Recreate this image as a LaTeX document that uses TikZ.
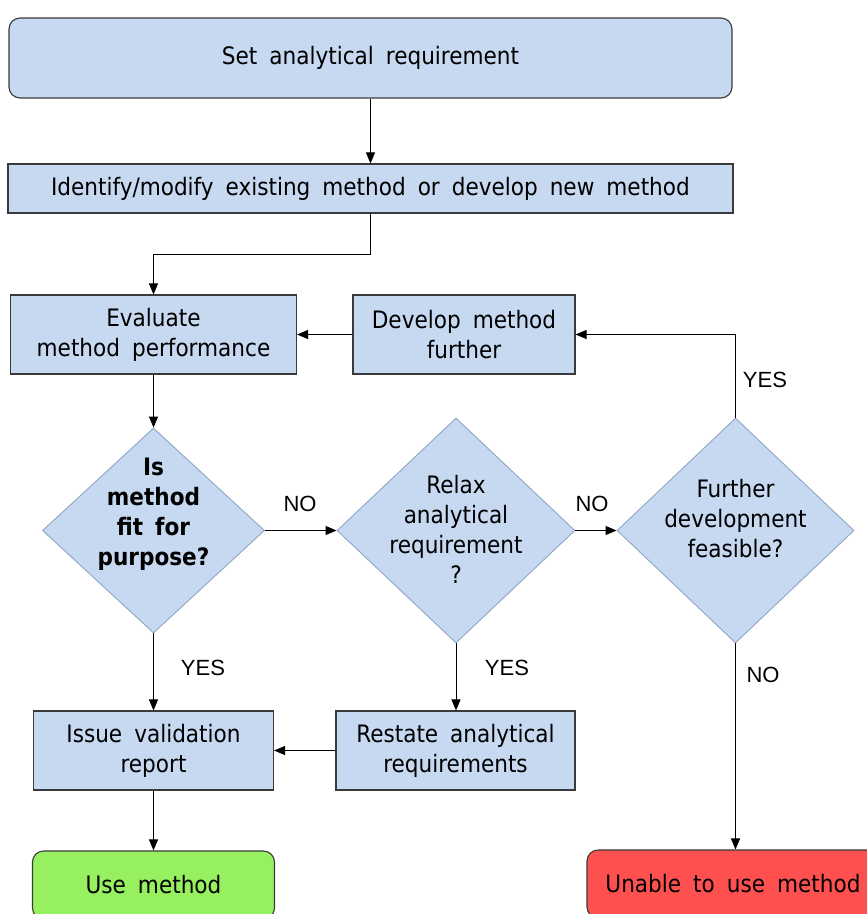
\documentclass[tikz,border=0pt]{standalone}
\usepackage{fontspec}
\setmainfont{DejaVu Sans Condensed}
\newfontfamily\labfont{Liberation Sans}
\usetikzlibrary{shapes.geometric,arrows.meta}
\definecolor{boxfill}{HTML}{C6D9F1}
\definecolor{boxline}{HTML}{3A3A3A}
\definecolor{diaLine}{HTML}{8FA6C4}
\definecolor{okfill}{HTML}{96F060}
\definecolor{nofill}{HTML}{FF5050}
\newcommand{\boxfont}{\fontsize{24}{30}\selectfont\spaceskip=0.5em plus 0.1em minus 0.05em\relax}
\tikzset{
  txt/.style={font=\boxfont, align=center},
  boxnode/.style={txt, draw=boxline, fill=boxfill, line width=1.1pt, rectangle, inner sep=0pt},
  roundbox/.style={boxnode, rounded corners=11pt},
  dianode/.style={diamond, draw=diaLine, fill=boxfill, line width=0.9pt, inner sep=0pt},
  dtext/.style={txt},
  lab/.style={font=\labfont\fontsize{22}{24}\selectfont},
  conn/.style={draw=black, line width=1pt, -{Triangle[length=11pt,width=9pt]}}
}
\begin{document}
\begin{tikzpicture}[x=1pt,y=-1pt]
\clip (0,0) rectangle (867,914);
\fill[white] (0,0) rectangle (867,914);

\node[roundbox, minimum width=723pt, minimum height=80pt] (set) at (370.5,58) {Set analytical requirement};
\node[boxnode, minimum width=725pt, minimum height=49pt] (ident) at (370.5,188.5) {Identify/modify existing method or develop new method};
\node[boxnode, minimum width=286pt, minimum height=79pt] (eval) at (153.5,334.5) {Evaluate\\method performance};
\node[boxnode, minimum width=222pt, minimum height=79pt] (dev) at (464,334.5) {Develop method\\further};

\node[dianode, minimum width=222pt, minimum height=205pt] (d1) at (153.5,530.5) {};
\node[dtext, font=\bfseries\boxfont] (d1t) at (153.5,514) {Is\\method\\fit for\\purpose?};
\node[dianode, minimum width=238pt, minimum height=225pt] (d2) at (456,530.5) {};
\node[dtext] (d2t) at (456,529) {Relax\\analytical\\requirement\\?};
\node[dianode, minimum width=237pt, minimum height=225pt] (d3) at (735.5,530.5) {};
\node[dtext] (d3t) at (735.5,519) {Further\\development\\feasible?};

\node[boxnode, minimum width=240pt, minimum height=79pt] (issue) at (153.5,750.5) {Issue validation\\report};
\node[boxnode, minimum width=239pt, minimum height=79pt] (rest) at (455.5,750.5) {Restate analytical\\requirements};

\node[roundbox, fill=okfill, minimum width=242pt, minimum height=68pt] (use) at (153.5,885) {Use method};
\node[roundbox, fill=nofill, minimum width=292pt, minimum height=68pt] (unable) at (733,884) {Unable to use method};

% connectors
\draw[conn] (set.south) -- (ident.north);
\coordinate (k1) at (370.5,254);
\draw[conn] (ident.south) -- (k1) -| (eval.north);
\draw[conn] (dev.west) -- (eval.east);
\draw[conn] (eval.south) -- (d1.north);
\draw[conn] (d1.east) -- (d2.west);
\draw[conn] (d2.east) -- (d3.west);
\draw[conn] (d3.north) |- (dev.east);
\draw[conn] (d1.south) -- (issue.north);
\draw[conn] (d2.south) -- (d2.south |- rest.north);
\draw[conn] (rest.west) -- (issue.east);
\draw[conn] (issue.south) -- (use.north);
\draw[conn] (d3.south) -- (d3.south |- unable.north);

% labels
\node[lab] (l1) at (300,504) {NO};
\node[lab] (l2) at (592,504) {NO};
\node[lab] (l3) at (765,380) {YES};
\node[lab] (l4) at (203,668) {YES};
\node[lab] (l5) at (507,668) {YES};
\node[lab] (l6) at (763,675) {NO};
\end{tikzpicture}
\end{document}
